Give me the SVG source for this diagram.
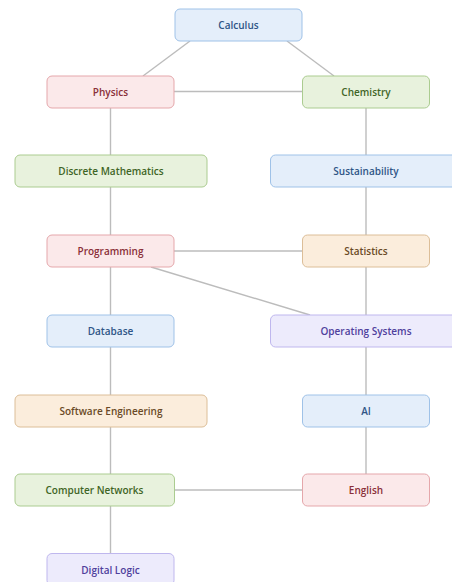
<svg xmlns="http://www.w3.org/2000/svg" width="452" height="582" viewBox="0 0 452 582">
  <style>
    .edge { stroke: #bcbcbc; stroke-width: 1.4; fill: none; }
    .node rect { stroke-width: 1; }
    .node text { font-family: "Open Sans", "Noto Sans", "DejaVu Sans", sans-serif; font-size: 10px; font-weight: 600; text-anchor: middle; dominant-baseline: central; }
    .blue rect { fill: #e4eefa; stroke: #9fc2e8; }
    .blue text { fill: #2f5586; }
    .red rect { fill: #fbe9ea; stroke: #e5a7ab; }
    .red text { fill: #8a2f38; }
    .green rect { fill: #e8f2dd; stroke: #abcc90; }
    .green text { fill: #3f6526; }
    .orange rect { fill: #fbeddc; stroke: #dcbe98; }
    .orange text { fill: #6a4a26; }
    .purple rect { fill: #edebfc; stroke: #bfb7ee; }
    .purple text { fill: #4f409c; }
  </style>
  <rect width="452" height="582" fill="#ffffff"/>

  <g id="connectors">
    <line class="edge" x1="190" y1="41" x2="143" y2="76"/>
    <line class="edge" x1="287" y1="41" x2="334" y2="76"/>
    <line class="edge" x1="174" y1="91.5" x2="302" y2="91.5"/>
    <line class="edge" x1="110.5" y1="108" x2="110.5" y2="155"/>
    <line class="edge" x1="366" y1="108" x2="366" y2="155"/>
    <line class="edge" x1="110.5" y1="187" x2="110.5" y2="235"/>
    <line class="edge" x1="366" y1="187" x2="366" y2="235"/>
    <line class="edge" x1="174" y1="251" x2="302" y2="251"/>
    <line class="edge" x1="151" y1="267" x2="310" y2="315"/>
    <line class="edge" x1="110.5" y1="267" x2="110.5" y2="315"/>
    <line class="edge" x1="366" y1="267" x2="366" y2="315"/>
    <line class="edge" x1="110.5" y1="347" x2="110.5" y2="395"/>
    <line class="edge" x1="366" y1="347" x2="366" y2="395"/>
    <line class="edge" x1="110.5" y1="427" x2="110.5" y2="474"/>
    <line class="edge" x1="366" y1="427" x2="366" y2="474"/>
    <line class="edge" x1="174" y1="490" x2="302" y2="490"/>
    <line class="edge" x1="110.5" y1="506" x2="110.5" y2="553"/>
  </g>

  <g id="calculus" class="node blue">
    <rect x="175" y="9" width="127" height="32" rx="5"/>
    <text x="238.5" y="25">Calculus</text>
  </g>
  <g id="physics" class="node red">
    <rect x="47" y="76" width="127" height="32" rx="5"/>
    <text x="110.5" y="92">Physics</text>
  </g>
  <g id="chemistry" class="node green">
    <rect x="302.5" y="76" width="127" height="32" rx="5"/>
    <text x="366" y="92">Chemistry</text>
  </g>
  <g id="discrete-mathematics" class="node green">
    <rect x="15" y="155" width="192" height="32" rx="5"/>
    <text x="111" y="171">Discrete Mathematics</text>
  </g>
  <g id="sustainability" class="node blue">
    <rect x="270.5" y="155" width="192" height="32" rx="5"/>
    <text x="366" y="171">Sustainability</text>
  </g>
  <g id="programming" class="node red">
    <rect x="47" y="235" width="127" height="32" rx="5"/>
    <text x="110.5" y="251">Programming</text>
  </g>
  <g id="statistics" class="node orange">
    <rect x="302.5" y="235" width="127" height="32" rx="5"/>
    <text x="366" y="251">Statistics</text>
  </g>
  <g id="database" class="node blue">
    <rect x="47" y="315" width="127" height="32" rx="5"/>
    <text x="110.5" y="331">Database</text>
  </g>
  <g id="operating-systems" class="node purple">
    <rect x="270.5" y="315" width="192" height="32" rx="5"/>
    <text x="366" y="331">Operating Systems</text>
  </g>
  <g id="software-engineering" class="node orange">
    <rect x="15" y="395" width="192" height="32" rx="5"/>
    <text x="111" y="411">Software Engineering</text>
  </g>
  <g id="ai" class="node blue">
    <rect x="302.5" y="395" width="127" height="32" rx="5"/>
    <text x="366" y="411">AI</text>
  </g>
  <g id="computer-networks" class="node green">
    <rect x="15" y="474" width="159.5" height="32" rx="5"/>
    <text x="94.5" y="490">Computer Networks</text>
  </g>
  <g id="english" class="node red">
    <rect x="302.5" y="474" width="127" height="32" rx="5"/>
    <text x="366" y="490">English</text>
  </g>
  <g id="digital-logic" class="node purple">
    <rect x="47" y="553.5" width="127" height="32" rx="5"/>
    <text x="110.5" y="569.5">Digital Logic</text>
  </g>
</svg>
